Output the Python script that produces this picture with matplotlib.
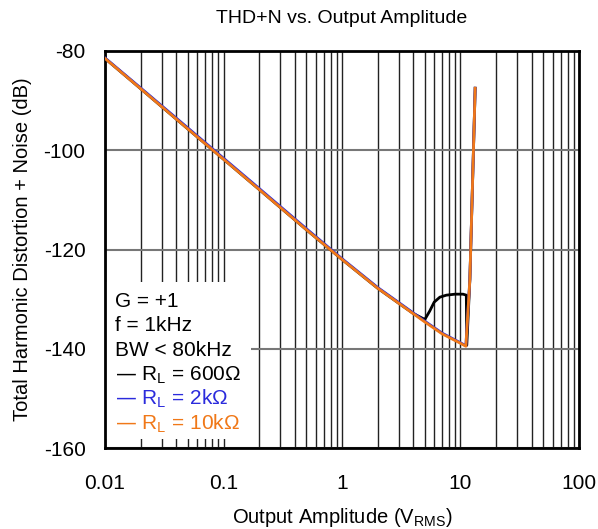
import matplotlib
matplotlib.use('agg')
import matplotlib.pyplot as plt
import matplotlib.patches as patches
import numpy as np

plt.rcParams['font.family'] = ['Liberation Sans', 'DejaVu Sans']
plt.rcParams['axes.unicode_minus'] = False

# data (V_RMS, dB)
amp10k = [0.01, 0.02, 0.05, 0.1, 0.2, 0.5, 1, 2, 3, 5, 7, 10, 11.1, 12.0, 13.3]
thd10k = [-81.5, -87.6, -95.7, -101.8, -107.9, -116.0, -122.0, -127.8, -130.8, -134.6, -137.0, -138.9, -139.5, -126.0, -87.5]

amp2k = [0.01, 0.02, 0.05, 0.1, 0.2, 0.5, 1, 2, 3, 5, 7, 10, 11.1, 12.0, 13.3]
thd2k = [-81.4, -87.45, -95.5, -101.6, -107.7, -115.8, -121.85, -127.65, -130.65, -134.45, -136.85, -138.8, -139.4, -126.0, -87.5]

amp600 = [0.01, 0.02, 0.05, 0.1, 0.2, 0.5, 1, 2, 3, 4, 5.0, 5.5, 6.0, 6.7, 7.6, 9, 10.5, 11.2, 11.3, 12.0, 13.3]
thd600 = [-81.5, -87.6, -95.7, -101.8, -107.9, -116.0, -122.0, -127.8, -130.8, -132.9, -134.1, -132.4, -130.6, -129.6, -129.2, -129.0, -129.0, -129.2, -139.3, -126.0, -87.5]

fig = plt.figure(figsize=(5.98, 5.29), dpi=100)
ax = fig.add_axes([0.1756, 0.1531, 0.7926, 0.7505])

ax.plot(amp600, thd600, color='black', lw=2.0, zorder=3)
ax.plot(amp2k, thd2k, color='#2b2bdc', lw=2.0, zorder=4)
ax.plot(amp10k, thd10k, color='#f07818', lw=2.0, zorder=5)

ax.set_xscale('log')
ax.set_xlim(0.01, 100)
ax.set_ylim(-160, -80)
ax.set_xticks([0.01, 0.1, 1, 10, 100])
ax.set_xticklabels(['0.01', '0.1', '1', '10', '100'])
ax.set_yticks([-160, -140, -120, -100, -80])
ax.tick_params(which='both', length=0, labelsize=15)
ax.tick_params(axis='x', pad=19)
ax.tick_params(axis='y', pad=14)

ax.grid(True, which='major', axis='x', color='#222222', lw=1.0, zorder=1)
ax.grid(True, which='minor', axis='x', color='#222222', lw=1.0, zorder=1)
ax.grid(True, which='major', axis='y', color='#777777', lw=1.5, zorder=1)
for s in ax.spines.values():
    s.set_linewidth(2)

ax.set_title('THD+N vs. Output Amplitude', fontsize=14, pad=20)
ax.set_xlabel('Output Amplitude (V$_{\\mathregular{RMS}}$)', fontsize=14.5, labelpad=9)
ax.set_ylabel('Total Harmonic Distortion + Noise (dB)', fontsize=14.5, labelpad=8)

# white box behind the conditions / legend
box = patches.Rectangle((0, 0.022), 0.307, 0.395, transform=ax.transAxes,
                        facecolor='white', edgecolor='none', zorder=2)
ax.add_patch(box)

lines = [('G = +1', 'black'),
         ('f = 1kHz', 'black'),
         ('BW < 80kHz', 'black'),
         ('\u2014 R$_\\mathregular{L}$ = 600\u03a9', 'black'),
         ('\u2014 R$_\\mathregular{L}$ = 2k\u03a9', '#2b2bdc'),
         ('\u2014 R$_\\mathregular{L}$ = 10k\u03a9', '#f07818')]
ypos = [0.368, 0.309, 0.246, 0.183, 0.125, 0.062]
for (t, c), yy in zip(lines, ypos):
    ax.text(0.022, yy, t, color=c, fontsize=15, transform=ax.transAxes,
            va='center', ha='left', zorder=6)

plt.savefig('out.png', dpi=100)
